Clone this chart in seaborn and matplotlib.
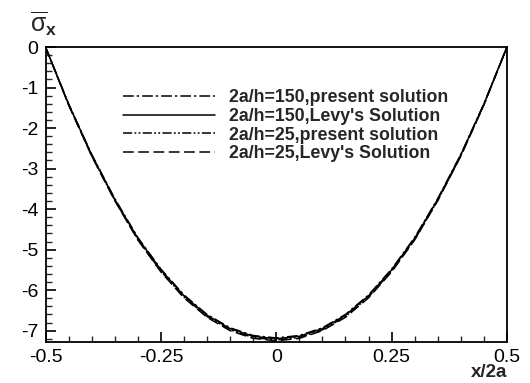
import matplotlib
matplotlib.use("Agg")
import matplotlib.pyplot as plt
import seaborn as sns
import pandas as pd
from matplotlib.ticker import MultipleLocator

# ---- data ----
x_vals = [-0.5, -0.45, -0.4, -0.35, -0.3, -0.25, -0.2, -0.15, -0.1, -0.05,
          0.0, 0.05, 0.1, 0.15, 0.2, 0.25, 0.3, 0.35, 0.4, 0.45, 0.5]
y_150_present = [0.0, -1.40, -2.65, -3.74, -4.70, -5.48, -6.12, -6.60, -6.93, -7.12,
                 -7.18, -7.12, -6.93, -6.60, -6.12, -5.48, -4.70, -3.74, -2.65, -1.40, 0.0]
y_150_levy = [0.0, -1.41, -2.66, -3.76, -4.72, -5.50, -6.14, -6.62, -6.95, -7.14,
              -7.20, -7.14, -6.95, -6.62, -6.14, -5.50, -4.72, -3.76, -2.66, -1.41, 0.0]
y_25_present = [0.0, -1.42, -2.68, -3.78, -4.75, -5.53, -6.17, -6.65, -6.98, -7.17,
                -7.23, -7.17, -6.98, -6.65, -6.17, -5.53, -4.75, -3.78, -2.68, -1.42, 0.0]
y_25_levy = [0.0, -1.43, -2.69, -3.79, -4.76, -5.55, -6.19, -6.67, -7.00, -7.19,
             -7.25, -7.19, -7.00, -6.67, -6.19, -5.55, -4.76, -3.79, -2.69, -1.43, 0.0]
labels = ["2a/h=150,present solution", "2a/h=150,Levy's Solution",
          "2a/h=25,present solution", "2a/h=25,Levy's Solution"]
x_ticks = [-0.5, -0.25, 0, 0.25, 0.5]
x_tick_labels = ["-0.5", "-0.25", "0", "0.25", "0.5"]
y_ticks = [0, -1, -2, -3, -4, -5, -6, -7]

sns.set_style("ticks")
plt.rcParams["font.family"] = ["Liberation Sans", "DejaVu Sans"]
plt.rcParams["mathtext.fontset"] = "custom"
plt.rcParams["mathtext.rm"] = "Liberation Sans"
plt.rcParams["mathtext.it"] = "Liberation Sans"
plt.rcParams["mathtext.bf"] = "Liberation Sans:bold"

W, H = 530, 383
fig = plt.figure(figsize=(W / 100, H / 100), dpi=100)
ax = fig.add_axes([45.5 / W, 1 - 342 / H, 461.5 / W, 295 / H])

series = [y_150_present, y_150_levy, y_25_present, y_25_levy]
styles = [(0, (7, 2, 1.5, 2)), "-", (0, (6, 1.5, 1.2, 1.5, 1.2, 1.5)), (0, (7, 3))]
for ys, lab, ls in zip(series, labels, styles):
    df = pd.DataFrame({"x": x_vals, "y": ys})
    sns.lineplot(data=df, x="x", y="y", ax=ax, color="black", lw=1.1,
                 linestyle=ls, label=lab, sort=False)

ax.set_xlim(-0.5, 0.5)
ax.set_ylim(-7.28, 0)
ax.set_xticks(x_ticks)
ax.set_xticklabels(x_tick_labels)
ax.set_yticks(y_ticks)
ax.set_yticklabels([str(v) for v in y_ticks])
ax.xaxis.set_minor_locator(MultipleLocator(0.05))
ax.yaxis.set_minor_locator(MultipleLocator(0.2))
ax.tick_params(which="major", direction="in", length=7, width=1.2,
               labelsize=14, colors="black", pad=5)
ax.tick_params(which="minor", direction="in", length=4, width=1.0)
ax.tick_params(top=False, right=False, which="both")
for s in ax.spines.values():
    s.set_visible(True)
    s.set_linewidth(1.3)
    s.set_color("black")
ax.set_xlabel("")
ax.set_ylabel("")

leg = ax.legend(loc="upper left", bbox_to_anchor=(70 / 461.5, 1 - 35 / 295),
                frameon=False, handlelength=5.2, handletextpad=0.8,
                labelspacing=0.1, borderaxespad=0,
                prop={"family": "Liberation Sans", "weight": "bold", "size": 12.8})

fig.text(30 / W, 1 - 38 / H, r"$\overline{\sigma}_{\mathbf{x}}$", fontsize=18,
         ha="left", va="bottom")
fig.text(507 / W, 1 - 377 / H, "x/2a", fontsize=13.5, fontweight="bold",
         ha="right", va="baseline")

fig.savefig("out.png", dpi=100)
